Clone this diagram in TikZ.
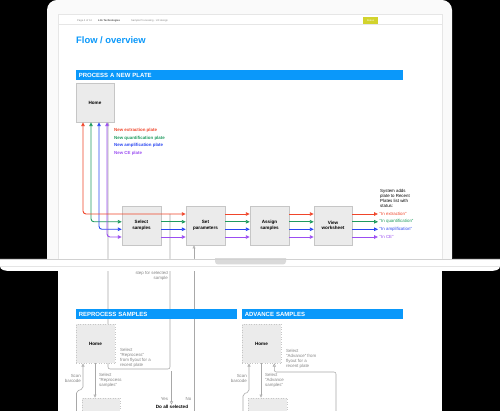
\documentclass[tikz,border=0pt]{standalone}
\usepackage{fontspec}
\setmainfont{Liberation Sans}
\usetikzlibrary{arrows.meta,calc}
\definecolor{cred}{HTML}{F0452A}
\definecolor{cgreen}{HTML}{1E9B5E}
\definecolor{cblue}{HTML}{2B47F2}
\definecolor{cpurple}{HTML}{9B4DF2}
\definecolor{bannerblue}{HTML}{0A98FA}
\definecolor{boxfill}{HTML}{EBEBEB}
\definecolor{boxdraw}{HTML}{C6C6C6}
\definecolor{glinec}{HTML}{A8A8A8}
\definecolor{lblgray}{HTML}{858585}
\definecolor{pageline}{HTML}{E6E6E6}
\definecolor{lidc}{HTML}{FAFAFA}
\definecolor{notchc}{HTML}{DADADA}
\definecolor{badgec}{HTML}{D2D32C}
\tikzset{
  box/.style={draw=boxdraw, fill=boxfill, line width=0.5pt, minimum width=39pt, minimum height=39pt, inner sep=1pt, align=center, font=\bfseries\fontsize{4.6}{5.4}\selectfont},
  dbox/.style={box, dotted, line width=0.6pt},
  banner/.style={fill=bannerblue, text=white, font=\bfseries\fontsize{6}{7}\selectfont, inner xsep=2.6pt, inner ysep=0pt, minimum height=10pt, anchor=north west, align=left},
  lbl/.style={text=lblgray, font=\fontsize{4.4}{5}\selectfont, inner sep=0.5pt},
  note/.style={text=black, font=\fontsize{4.4}{5}\selectfont, inner sep=0.5pt, align=left},
  leg/.style={font=\bfseries\fontsize{4.4}{5}\selectfont, inner sep=0.5pt, anchor=west},
  hdr/.style={text=lblgray, font=\fontsize{2.6}{3}\selectfont, inner sep=0pt, anchor=west},
  cl/.style={line width=0.9pt, >={Triangle[open,length=4pt,width=3.6pt]}},
  gl/.style={draw=glinec, line width=0.55pt, >={Triangle[open,length=3.2pt,width=3pt]}}
}
\begin{document}
\begin{tikzpicture}[x=1pt,y=-1pt]
\useasboundingbox (0,0) rectangle (500,411);
\begin{scope}
\clip (0,0) rectangle (500,411);
\fill[black] (0,0) rectangle (500,411);
% laptop lid and screen page
\fill[lidc, rounded corners=10pt] (47,268) -- (47,0) -- (452,0) -- (452,268) -- cycle;
\fill[white] (58,14) rectangle (442,259);
\draw[pageline, line width=0.5pt] (58,259) -- (58,14) -- (442,14) -- (442,259);
% page continuing below the base
\fill[white] (58,271) rectangle (442,411);

% header
\node[hdr] (pg) at (77,21) {Page 4 of 14};
\node[hdr, text=black!70, font=\bfseries\fontsize{2.6}{3}\selectfont] (co) at (98,21) {Life Technologies};
\node[hdr] (proj) at (131,21) {Sample Processing · UX design};
\node[fill=badgec, text=white, minimum width=15pt, minimum height=7pt, inner sep=0pt, font=\fontsize{2.5}{3}\selectfont] (badge) at (370.5,20.5) {Status};
\draw[pageline, line width=0.5pt] (58,24.5) -- (442,24.5);

% title
\node[anchor=west, text=bannerblue, font=\bfseries\fontsize{9.4}{11}\selectfont, inner sep=0pt] (title) at (76,40.5) {Flow / overview};

% process a new plate
\node[banner, text width=321.8pt] (b1) at (76,70) {PROCESS A NEW PLATE};
\node[box, minimum width=38pt] (home) at (95,102.5) {Home};
\node[leg, text=cred] (l1) at (113.5,130.3) {New extraction plate};
\node[leg, text=cgreen] (l2) at (113.5,138) {New quantification plate};
\node[leg, text=cblue] (l3) at (113.5,145.7) {New amplification plate};
\node[leg, text=cpurple] (l4) at (113.5,153.3) {New CE plate};

\node[box] (sel) at (141.5,225.5) {Select\\samples};
\node[box] (setp) at (205.5,225.5) {Set\\parameters};
\node[box] (asg) at (269.5,225.5) {Assign\\samples};
\node[box, minimum width=38pt] (view) at (333,225.5) {View\\worksheet};

\coordinate (r1) at (0,214);
\coordinate (r2) at (0,221.8);
\coordinate (r3) at (0,229.3);
\coordinate (r4) at (0,237);

\node[note, anchor=north west] (sys) at (379.5,188.5) {System adds\\plate to Recent\\Plates list with\\status:};
\node[note, anchor=west, text=cred, inner sep=1.5pt] (o1) at (378,214) {“In extraction”};
\node[note, anchor=west, text=cgreen, inner sep=1.5pt] (o2) at (378,221.8) {“In quantification”};
\node[note, anchor=west, text=cblue, inner sep=1.5pt] (o3) at (378,229.3) {“In amplification”};
\node[note, anchor=west, text=cpurple, inner sep=1.5pt] (o4) at (378,237) {“In CE”};

% gray connectors from the upper flow
\coordinate (g1) at (170,214);
\coordinate (x108) at (108,0);
\draw[gl, ->, rounded corners=2pt] (g1) -- (170,369) -- (108,369) -- (home.south -| x108) ;
\coordinate (g2) at (194,411);
\draw[gl, ->] (g2) -- (setp.south -| g2);

% colored flows
\draw[cl, cgreen, <->, rounded corners=3pt] ([xshift=-4pt]home.south) |- (sel.west |- r2);
\draw[cl, cblue, <->, rounded corners=3pt] ([xshift=4pt]home.south) |- (sel.west |- r3);
\draw[cl, cpurple, <->, rounded corners=3pt] ([xshift=12pt]home.south) |- (sel.west |- r4);
\foreach \r/\c in {r2/cgreen, r3/cblue, r4/cpurple}{
  \draw[cl, \c, ->] (sel.east |- \r) -- (setp.west |- \r);
}
\draw[cl, cred, <->, rounded corners=3pt] ([xshift=-12pt]home.south) |- (setp.west |- r1);
\foreach \r/\c/\o in {r1/cred/o1, r2/cgreen/o2, r3/cblue/o3, r4/cpurple/o4}{
  \draw[cl, \c, ->] (setp.east |- \r) -- (asg.west |- \r);
  \draw[cl, \c, ->] (asg.east |- \r) -- (view.west |- \r);
  \draw[cl, \c, ->] (view.east |- \r) -- (\o.west);
}

\node[lbl, anchor=north east, align=right] (stepl) at (168.5,270.5) {step for selected\\sample};

% reprocess samples
\node[banner, text width=155.8pt] (b2) at (76,309) {REPROCESS SAMPLES};
\node[dbox] (rhome) at (95.5,343.5) {Home};
\node[dbox, minimum width=38pt, minimum height=40pt] (rbox) at (101,418) {};
\coordinate (g4) at (76.5,411);
\coordinate (x83) at (83,0);
\draw[gl, ->, rounded corners=2pt] (g4) -- (76.5,391) -- (83,389) -- (rhome.south -| x83);
\coordinate (x95) at (95,0);
\draw[gl, ->] (rhome.south -| x95) -- (rbox.north -| x95);
\node[lbl, anchor=east, align=right] (rscan) at (81.5,378.5) {Scan\\barcode};
\node[lbl, anchor=west, align=left] (rsel) at (98.5,380.5) {Select\\“Reprocess\\samples”};
\node[lbl, anchor=north west, align=left] (rfly) at (119.5,348) {Select\\“Reprocess”\\from flyout for a\\recent plate};

% decision
\node[font=\bfseries\fontsize{4.6}{5}\selectfont, inner sep=0.5pt] (dec) at (172,407) {Do all selected};
\coordinate (g3) at (171.5,371);
\draw[gl, ->] (g3) -- (dec.north -| g3);
\node[lbl] (yes) at (164.5,399.5) {Yes};
\node[lbl] (no) at (188.5,399.5) {No};

% advance samples
\node[banner, text width=155.8pt] (b3) at (242,309) {ADVANCE SAMPLES};
\node[dbox] (ahome) at (261.5,343.5) {Home};
\node[dbox, minimum width=39pt, minimum height=40pt] (abox) at (267.5,418) {};
\coordinate (g5) at (243,411);
\coordinate (x249) at (249,0);
\draw[gl, ->, rounded corners=2pt] (g5) -- (243,394) -- (249,392) -- (ahome.south -| x249);
\coordinate (x261) at (261,0);
\draw[gl, ->] (ahome.south -| x261) -- (abox.north -| x261);
\coordinate (g6) at (336,411);
\coordinate (x274) at (274.3,0);
\draw[gl, ->, rounded corners=2pt] (g6) -- (336,372) -- (274.3,372) -- (ahome.south -| x274);
\node[lbl, anchor=east, align=right] (ascan) at (247.5,378.5) {Scan\\barcode};
\node[lbl, anchor=west, align=left] (asel) at (264.5,380.5) {Select\\“Advance\\samples”};
\node[lbl, anchor=north west, align=left] (afly) at (285.5,349) {Select\\“Advance” from\\flyout for a\\recent plate};

% laptop base
\fill[white] (0,259) -- (500,259) -- (500,266) .. controls (500,270) and (496,271) .. (488,271) -- (12,271) .. controls (4,271) and (0,270) .. (0,266) -- cycle;
\begin{scope}
\clip (0,259) rectangle (500,271);
\fill[notchc, rounded corners=3pt] (215,250) rectangle (286,264.5);
\end{scope}
\draw[black!18, line width=0.5pt] (0,259.3) -- (500,259.3);
\draw[black!10, line width=0.4pt] (0,266) -- (500,266);
\end{scope}
\end{tikzpicture}
\end{document}
